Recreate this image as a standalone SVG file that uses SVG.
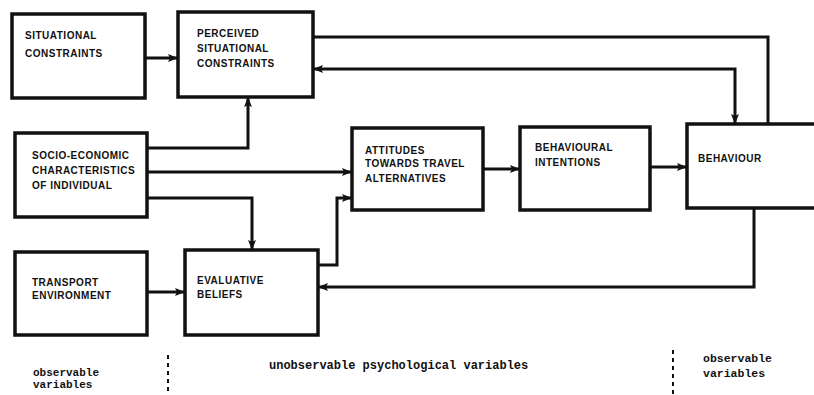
<svg xmlns="http://www.w3.org/2000/svg" width="814" height="395" viewBox="0 0 814 395">
<style>
.box{fill:#fff;stroke:#111;stroke-width:3.5}
.lbl{font-family:"Liberation Sans",Arial,sans-serif;font-weight:bold;font-size:10px;fill:#111;letter-spacing:0.5px}
.con{fill:none;stroke:#111;stroke-width:3;stroke-linejoin:miter}
.leg{font-family:"Liberation Mono","Courier New",monospace;font-weight:bold;fill:#111}
.dash{stroke:#111;stroke-width:2;stroke-dasharray:4 4}
</style>
<defs>
<marker id="ah" viewBox="0 0 10 10" refX="10" refY="5" markerWidth="10" markerHeight="10" markerUnits="userSpaceOnUse" orient="auto-start-reverse">
<path d="M0,1 L10,5 L0,9 L2,5 Z" fill="#111"/>
</marker>
</defs>
<rect width="814" height="395" fill="#fff"/>
<g id="connectors">
<path class="con" d="M145,58 H178" marker-end="url(#ah)"/>
<path class="con" d="M313,37 H768 V124"/>
<path class="con" d="M735,124 V69 H313" marker-start="url(#ah)" marker-end="url(#ah)"/>
<path class="con" d="M147,148 H248 V97" marker-end="url(#ah)"/>
<path class="con" d="M147,172 H352" marker-end="url(#ah)"/>
<path class="con" d="M147,198 H252 V250" marker-end="url(#ah)"/>
<path class="con" d="M318,265 H337 V198 H352" marker-end="url(#ah)"/>
<path class="con" d="M147,292 H185" marker-end="url(#ah)"/>
<path class="con" d="M483,169 H520" marker-end="url(#ah)"/>
<path class="con" d="M650,167 H687" marker-end="url(#ah)"/>
<path class="con" d="M754,208 V287 H318" marker-end="url(#ah)"/>
</g>
<g id="situational-constraints">
<rect class="box" x="12" y="14" width="133" height="84"/>
<text class="lbl" x="25" y="39">SITUATIONAL</text>
<text class="lbl" x="25" y="57">CONSTRAINTS</text>
</g>
<g id="perceived-situational-constraints">
<rect class="box" x="178" y="12" width="135" height="85"/>
<text class="lbl" x="197" y="37">PERCEIVED</text>
<text class="lbl" x="197" y="52">SITUATIONAL</text>
<text class="lbl" x="197" y="67">CONSTRAINTS</text>
</g>
<g id="socio-economic">
<rect class="box" x="15" y="133" width="132" height="84"/>
<text class="lbl" x="32" y="159">SOCIO-ECONOMIC</text>
<text class="lbl" x="32" y="174">CHARACTERISTICS</text>
<text class="lbl" x="32" y="189">OF INDIVIDUAL</text>
</g>
<g id="attitudes">
<rect class="box" x="352" y="128" width="131" height="82"/>
<text class="lbl" x="365" y="154">ATTITUDES</text>
<text class="lbl" x="365" y="167">TOWARDS TRAVEL</text>
<text class="lbl" x="365" y="182">ALTERNATIVES</text>
</g>
<g id="behavioural-intentions">
<rect class="box" x="520" y="127" width="130" height="83"/>
<text class="lbl" x="535" y="151">BEHAVIOURAL</text>
<text class="lbl" x="535" y="166">INTENTIONS</text>
</g>
<g id="behaviour">
<rect class="box" x="687" y="124" width="140" height="84"/>
<text class="lbl" x="698" y="162">BEHAVIOUR</text>
</g>
<g id="transport-environment">
<rect class="box" x="15" y="252" width="132" height="83"/>
<text class="lbl" x="32" y="286">TRANSPORT</text>
<text class="lbl" x="32" y="299">ENVIRONMENT</text>
</g>
<g id="evaluative-beliefs">
<rect class="box" x="185" y="250" width="133" height="85"/>
<text class="lbl" x="197" y="284">EVALUATIVE</text>
<text class="lbl" x="197" y="298">BELIEFS</text>
</g>
<g id="legend">
<line class="dash" x1="168" y1="355" x2="168" y2="395"/>
<line class="dash" x1="673" y1="350" x2="673" y2="395"/>
<text class="leg" x="33" y="376" font-size="11">observable</text>
<text class="leg" x="33" y="388" font-size="11">variables</text>
<text class="leg" x="269" y="369" font-size="12">unobservable psychological variables</text>
<text class="leg" x="703" y="362" font-size="11.5">observable</text>
<text class="leg" x="703" y="377" font-size="11.5">variables</text>
</g>
</svg>
